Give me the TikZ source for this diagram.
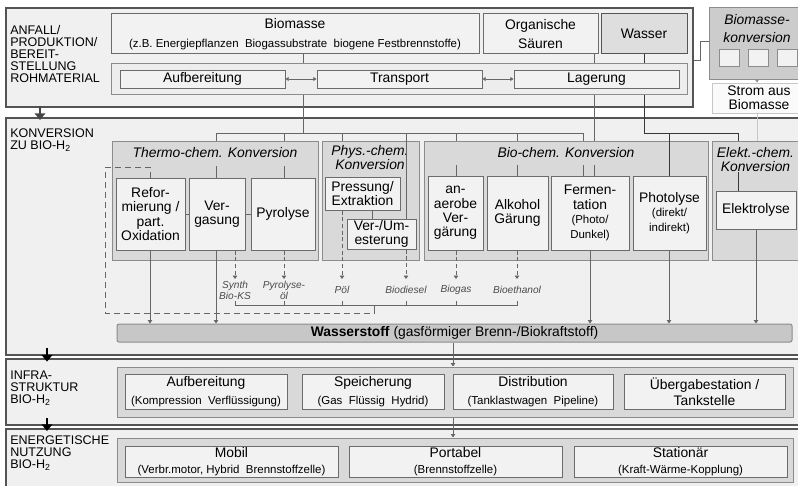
\documentclass[tikz,border=0pt]{standalone}
\usepackage{fontspec}
\setmainfont{Liberation Sans}
\usetikzlibrary{arrows.meta}

\definecolor{secfill}{gray}{0.94}
\definecolor{secdraw}{gray}{0.33}
\definecolor{grpfill}{gray}{0.85}
\definecolor{grpdraw}{gray}{0.55}
\definecolor{subfill}{gray}{0.95}
\definecolor{subdraw}{gray}{0.42}
\definecolor{rowfill}{gray}{0.93}
\definecolor{contfill}{gray}{0.85}
\definecolor{wasserfill}{gray}{0.87}
\definecolor{bkfill}{gray}{0.80}
\definecolor{hfill}{gray}{0.78}
\definecolor{linecol}{gray}{0.40}
\definecolor{darkline}{gray}{0.22}
\definecolor{lightline}{gray}{0.78}
\definecolor{prodtext}{gray}{0.30}

\newcommand\fmain{\fontsize{10.4pt}{10.8pt}\selectfont}
\newcommand\fsub{\fontsize{8.6pt}{9.4pt}\selectfont}
\newcommand\fsec{\fontsize{9.4pt}{8.9pt}\selectfont}
\newcommand\fprod{\fontsize{7.6pt}{8.2pt}\selectfont\itshape}

\begin{document}
\begin{tikzpicture}[x=0.75pt,y=-0.75pt,
  area/.style n args={4}{anchor=center, at={({(#1+#3)/2},{(#2+#4)/2})},
    minimum width={(#3-#1)*0.75pt}, minimum height={(#4-#2)*0.75pt}},
  bx/.style={draw, inner sep=0pt, align=center, line width=0.75pt, font=\fmain},
  sec/.style={bx, draw=secdraw, fill=secfill, line width=1.1pt},
  grp/.style={bx, draw=grpdraw, fill=grpfill},
  sub/.style={bx, draw=subdraw, fill=subfill},
  rowbox/.style={bx, draw=grpdraw, fill=rowfill},
  cont/.style={bx, draw=grpdraw, fill=contfill},
  seclabel/.style={anchor=north west, align=left, inner sep=0pt, font=\fsec},
  glabel/.style={align=center, inner sep=0pt, font=\fmain\itshape},
  prod/.style={align=center, inner sep=0pt, font=\fprod, text=prodtext},
  conn/.style={draw=linecol, line width=0.6pt},
  wline/.style={draw=darkline, line width=0.7pt},
  arrowtip/.style={-{Triangle[width=3.4pt,length=2.6pt]}},
  flow/.style={conn, arrowtip},
  dflow/.style={conn, dash pattern=on 3pt off 2pt, arrowtip},
  dbox/.style={conn, dash pattern=on 4.5pt off 3pt},
  twoway/.style={conn, {Triangle[width=3pt,length=2.4pt]}-{Triangle[width=3pt,length=2.4pt]}},
  bigarrow/.style={line width=2.2pt, -{Triangle[width=8pt,length=5pt]}},
]
\useasboundingbox (0,0) rectangle (798,485);

% ---------- sections ----------
\node[sec, area={6}{8}{693}{107}] (secA) {};
\node[sec, area={6}{118}{806}{355}] (secB) {};
\node[sec, area={6}{359}{806}{425}] (secC) {};
\node[sec, area={6}{429}{806}{492}] (secD) {};

\node[seclabel] (labA) at (10,25.5) {ANFALL/\\PRODUKTION/\\BEREIT-\\STELLUNG\\ROHMATERIAL};
\node[seclabel] (labB) at (10,128.5) {KONVERSION\\ZU BIO-H\textsubscript{2}};
\node[seclabel] (labC) at (10,370.5) {INFRA-\\STRUKTUR\\BIO-H\textsubscript{2}};
\node[seclabel] (labD) at (10,435.5) {ENERGETISCHE\\NUTZUNG\\BIO-H\textsubscript{2}};

% ---------- raw material ----------
\node[sub, area={111}{14}{479}{54}] (bm) {Biomasse\\[3.5pt]{\fsub (z.B. Energiepflanzen\ \ Biogassubstrate\ \ biogene Festbrennstoffe)}};
\node[sub, area={483}{14}{598}{54}] (os) {Organische\\[3pt]Säuren};
\node[sub, fill=wasserfill, draw=secdraw, area={601}{14}{687}{54}] (ws) {Wasser};

\node[rowbox, area={111}{64}{687}{94}] (rowA) {};
\node[sub, area={120}{70}{285}{88}] (auf) {Aufbereitung};
\node[sub, area={317}{70}{482}{88}] (tra) {Transport};
\node[sub, area={514}{70}{679}{88}] (lag) {Lagerung};
\draw[twoway] (auf) -- (tra);
\draw[twoway] (tra) -- (lag);

% ---------- biomass conversion to power ----------
\node[bx, draw=grpdraw, fill=bkfill, area={709}{8}{806}{79}] (bk) {};
\node[glabel] (bkl) at (757,28.5) {Biomasse-\\[2.5pt]konversion};
\node[sub, draw=grpdraw, area={719}{50}{739}{67}] (bkA) {};
\node[sub, draw=grpdraw, area={748}{50}{768}{67}] (bkB) {};
\node[sub, draw=grpdraw, area={777}{50}{797}{67}] (bkC) {};
\node[bx, draw=lightline, fill=white!60!subfill, area={712}{83}{806}{113}] (strom) {Strom aus\\Biomasse};

\coordinate (kA) at (700,60);
\coordinate (kB) at (700,41);
\coordinate (xS) at (757,0);
\draw[conn] (secA.east |- kA) -- (kA) -- (kB) -- (bk.west |- kB);
\draw[flow, draw=grpdraw] (bk.south -| xS) -- (strom.north -| xS);

% ---------- conversion groups ----------
\node[grp, area={112}{141}{318}{260}] (gT) {};
\node[glabel] (gTl) at (215,153) {Thermo-chem. Konversion};
\node[sub, area={116}{178}{185}{250}] (ref) {Refor-\\mierung /\\part.\\Oxidation};
\node[sub, area={189}{178}{245}{250}] (verg) {Ver-\\gasung};
\node[sub, area={251}{178}{315}{250}] (pyr) {Pyrolyse};
\draw[conn] (ref) -- (verg);
\draw[conn] (verg) -- (pyr);

\node[grp, area={322}{141}{419}{260}] (gP) {};
\node[glabel] (gPl) at (370,157.5) {Phys.-chem.\\Konversion};
\node[sub, area={325}{177}{400}{210}] (pres) {Pressung/\\Extraktion};
\node[sub, area={347}{219}{416}{249}] (ves) {Ver-/Um-\\esterung};

\node[grp, area={424}{141}{708}{260}] (gB) {};
\node[glabel] (gBl) at (566,153) {Bio-chem. Konversion};
\node[sub, area={428}{176}{483}{250}] (ana) {an-\\aerobe\\Ver-\\gärung};
\node[sub, area={487}{176}{548}{250}] (alk) {Alkohol\\Gärung};
\node[sub, area={551}{176}{629}{250}] (fer) {Fermen-\\tation\\{\fsub (Photo/}\\{\fsub Dunkel)}};
\node[sub, area={633}{176}{706}{250}] (pho) {Photolyse\\{\fsub (direkt/}\\{\fsub indirekt)}};

\node[grp, area={712}{141}{806}{260}] (gE) {};
\node[glabel] (gEl) at (755.5,159.5) {Elekt.-chem.\\Konversion};
\node[sub, area={716}{191}{796}{229}] (ele) {Elektrolyse};

% ---------- hydrogen bar ----------
\node[bx, draw=grpdraw, fill=hfill, rounded corners=1.5pt, area={117}{324}{792}{342}] (h2)
  {\textbf{Wasserstoff} (gasförmiger Brenn-/Biokraftstoff)};

% ---------- feed lines ----------
\coordinate (xBm) at (303,0);
\coordinate (xOs) at (594,0);
\coordinate (xWs) at (644,0);
\coordinate (busL) at (216,133);
\coordinate (busR) at (583,133);
\coordinate (busW) at (738,133);
\coordinate (xT2) at (284,0);
\coordinate (xP1) at (342,0);
\coordinate (xP2) at (406,0);
\coordinate (xP3) at (372,0);
\coordinate (xB1) at (456,0);
\coordinate (xB2) at (517,0);
\coordinate (xPh) at (669,0);
\coordinate (stubT) at (0,166);
\coordinate (stubB) at (0,165);
\coordinate (stubE) at (0,172);

\draw[conn] (bm.south -| xBm) -- (rowA.north -| xBm);
\draw[conn] (rowA.south -| xBm) -- (xBm |- busL);
\draw[conn] (busL) -- (busR);
\draw[conn] (busL) -- (busL |- gT.north);
\draw[conn] (busL |- stubT) -- (busL |- verg.north);
\draw[conn] (xT2 |- busL) -- (xT2 |- gT.north);
\draw[conn] (xT2 |- stubT) -- (xT2 |- pyr.north);
\draw[conn] (xP1 |- busL) -- (xP1 |- gP.north);
\draw[conn] (xP2 |- busL) -- (xP2 |- ves.north);
\draw[conn] (xP3 |- pres.south) -- (xP3 |- ves.north);
\draw[conn] (xB1 |- busL) -- (xB1 |- gB.north);
\draw[conn] (xB1 |- stubB) -- (xB1 |- ana.north);
\draw[conn] (xB2 |- busL) -- (xB2 |- gB.north);
\draw[conn] (xB2 |- stubB) -- (xB2 |- alk.north);
\draw[conn] (busR) -- (busR |- gB.north);
\draw[conn] (busR |- stubB) -- (busR |- fer.north);

\draw[conn] (os.south -| xOs) -- (rowA.north -| xOs);
\draw[conn] (rowA.south -| xOs) -- (xOs |- gB.north);
\draw[conn] (xOs |- stubB) -- (xOs |- fer.north);

\draw[wline] (ws.south -| xWs) -- (rowA.north -| xWs);
\draw[wline] (rowA.south -| xWs) -- (xWs |- busW) -- (busW);
\draw[wline] (xPh |- busW) -- (xPh |- pho.north);
\draw[wline] (busW) -- (busW |- gE.north);
\draw[wline] (busW |- stubE) -- (busW |- ele.north);

\draw[draw=lightline, line width=0.7pt] (strom.south -| xS) -- (xS |- gE.north);

% ---------- by-products ----------
\coordinate (xSy) at (235,0);
\coordinate (xDb) at (374,0);
\coordinate (pY) at (0,279);
\coordinate (brT) at (0,301);
\coordinate (brB) at (0,305);

\node[prod] (pSyn) at (235,290.5) {Synth\\Bio-KS};
\node[prod] (pPyr) at (284,290.5) {Pyrolyse-\\öl};
\node[prod] (pPoel) at (342,290) {Pöl};
\node[prod] (pDie) at (406,290) {Biodiesel};
\node[prod] (pGas) at (456,290) {Biogas};
\node[prod] (pEth) at (517,290) {Bioethanol};

\draw[dflow] (verg.south -| xSy) -- (xSy |- pY);
\draw[dflow] (pyr.south -| xT2) -- (xT2 |- pY);
\draw[dflow] (pres.south -| xP1) -- (xP1 |- pY);
\draw[dflow] (ves.south -| xP2) -- (xP2 |- pY);
\draw[dflow] (ana.south -| xB1) -- (xB1 |- pY);
\draw[dflow] (alk.south -| xB2) -- (xB2 |- pY);

\draw[conn] (xSy |- brT) -- (xSy |- brB) -- (xB2 |- brB) -- (xB2 |- brT);
\draw[conn] (xT2 |- brT) -- (xT2 |- brB);
\draw[conn] (xP1 |- brT) -- (xP1 |- brB);
\draw[conn] (xP2 |- brT) -- (xP2 |- brB);
\draw[conn] (xB1 |- brT) -- (xB1 |- brB);

\coordinate (dA) at (150,167);
\coordinate (dB) at (105,167);
\coordinate (dC) at (105,313);
\coordinate (dD) at (374,313);
\draw[dbox] (dA |- ref.north) -- (dA) -- (dB) -- (dC) -- (dD);
\draw[conn] (dD) -- (xDb |- brB);

% ---------- hydrogen paths ----------
\coordinate (xRf) at (150,0);
\coordinate (xFe) at (590,0);
\coordinate (xEl) at (756,0);
\draw[flow] (ref.south -| xRf) -- (h2.north -| xRf);
\draw[flow] (verg.south -| busL) -- (h2.north -| busL);
\draw[flow] (fer.south -| xFe) -- (h2.north -| xFe);
\draw[flow] (pho.south -| xPh) -- (h2.north -| xPh);
\draw[flow] (ele.south -| xEl) -- (h2.north -| xEl);

% ---------- infrastructure ----------
\node[cont, area={117}{367}{793}{417}] (contC) {};
\node[sub, area={125}{374}{287}{409}] (iAuf) {Aufbereitung\\[2.5pt]{\fsub (Kompression\ \ Verflüssigung)}};
\node[sub, area={302}{374}{444}{409}] (iSpe) {Speicherung\\[2.5pt]{\fsub (Gas\ \ Flüssig\ \ Hydrid)}};
\node[sub, area={453}{374}{613}{409}] (iDis) {Distribution\\[2.5pt]{\fsub (Tanklastwagen\ \ Pipeline)}};
\node[sub, area={624}{374}{785}{409}] (iUeb) {Übergabestation /\\[1pt]Tankstelle};

% ---------- end use ----------
\node[cont, area={117}{438}{793}{482}] (contD) {};
\node[sub, area={125}{446}{338}{477}] (eMob) {Mobil\\[1.5pt]{\fsub (Verbr.motor, Hybrid\ \ Brennstoffzelle)}};
\node[sub, area={349}{446}{562}{477}] (ePor) {Portabel\\[1.5pt]{\fsub (Brennstoffzelle)}};
\node[sub, area={574}{446}{787}{477}] (eSta) {Stationär\\[1.5pt]{\fsub (Kraft-Wärme-Kopplung)}};

\coordinate (xH) at (453,0);
\draw[flow] (h2.south -| xH) -- (contC.north -| xH);
\draw[flow] (contC.south -| xH) -- (contD.north -| xH);

% ---------- stage arrows ----------
\coordinate (xA1) at (40,0);
\coordinate (xA2) at (47,0);
\draw[bigarrow, draw=gray!55!black, fill=gray!55!black] ([yshift=1pt]secA.south -| xA1) -- ([yshift=-2pt]secB.north -| xA1);
\draw[bigarrow] ([yshift=5.5pt]secB.south -| xA2) -- ([yshift=-2.5pt]secC.north -| xA2);
\draw[bigarrow] ([yshift=5.5pt]secC.south -| xA2) -- ([yshift=-2pt]secD.north -| xA2);
\end{tikzpicture}
\end{document}
